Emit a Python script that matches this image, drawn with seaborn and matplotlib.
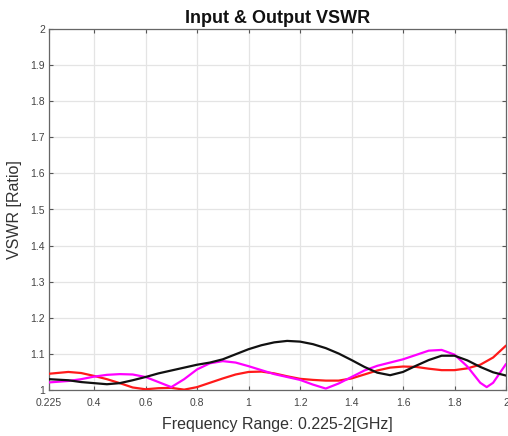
import numpy as np
import pandas as pd
import matplotlib
matplotlib.use("Agg")
import matplotlib.pyplot as plt
import seaborn as sns

freq = [0.225, 0.3, 0.35, 0.4, 0.45, 0.5, 0.55, 0.6, 0.65, 0.7, 0.75, 0.8, 0.85,
        0.9, 0.95, 1.0, 1.05, 1.1, 1.15, 1.2, 1.25, 1.3, 1.35, 1.4, 1.45, 1.5,
        1.55, 1.6, 1.65, 1.7, 1.75, 1.8, 1.85, 1.9, 1.95, 2.0]
vswr_black = [1.030, 1.027, 1.022, 1.019, 1.016, 1.019, 1.027, 1.036, 1.046, 1.054,
              1.062, 1.070, 1.076, 1.085, 1.099, 1.113, 1.124, 1.132, 1.136, 1.134,
              1.127, 1.116, 1.101, 1.083, 1.064, 1.048, 1.041, 1.050, 1.067, 1.083,
              1.095, 1.095, 1.082, 1.064, 1.049, 1.040]
vswr_red = [1.045, 1.050, 1.047, 1.039, 1.030, 1.019, 1.007, 1.002, 1.005, 1.006,
            1.001, 1.008, 1.020, 1.032, 1.043, 1.050, 1.051, 1.046, 1.038, 1.031,
            1.028, 1.026, 1.026, 1.032, 1.043, 1.054, 1.062, 1.065, 1.064, 1.059,
            1.055, 1.055, 1.060, 1.070, 1.090, 1.123]
freq_m = [0.225, 0.3, 0.35, 0.4, 0.45, 0.5, 0.55, 0.6, 0.65, 0.7, 0.75, 0.8, 0.85,
          0.9, 0.95, 1.0, 1.05, 1.1, 1.15, 1.2, 1.25, 1.3, 1.35, 1.4, 1.45, 1.5,
          1.55, 1.6, 1.65, 1.7, 1.75, 1.8, 1.85, 1.9, 1.925, 1.95, 2.0]
vswr_magenta = [1.021, 1.025, 1.030, 1.037, 1.042, 1.044, 1.043, 1.036, 1.022, 1.008,
                1.030, 1.057, 1.074, 1.080, 1.076, 1.066, 1.055, 1.044, 1.036, 1.028,
                1.015, 1.004, 1.018, 1.036, 1.054, 1.067, 1.076, 1.085, 1.097, 1.109,
                1.111, 1.098, 1.065, 1.020, 1.008, 1.020, 1.072]

xticks = [0.225, 0.4, 0.6, 0.8, 1.0, 1.2, 1.4, 1.6, 1.8, 2.0]
xticklabels = ["0.225", "0.4", "0.6", "0.8", "1", "1.2", "1.4", "1.6", "1.8", "2"]
yticks = [1.0, 1.1, 1.2, 1.3, 1.4, 1.5, 1.6, 1.7, 1.8, 1.9, 2.0]
yticklabels = ["1", "1.1", "1.2", "1.3", "1.4", "1.5", "1.6", "1.7", "1.8", "1.9", "2"]

sns.set_style("white")
plt.rcParams['font.family'] = ['Liberation Sans', 'DejaVu Sans']

fig = plt.figure(figsize=(5.08, 4.36), dpi=100)
ax = fig.add_axes([49/508, 46/436, 457/508, 361/436])

df_b = pd.DataFrame({"f": freq, "v": vswr_black})
df_r = pd.DataFrame({"f": freq, "v": vswr_red})
df_m = pd.DataFrame({"f": freq_m, "v": vswr_magenta})

sns.lineplot(data=df_r, x="f", y="v", color="#ff1a1a", linewidth=1.6, ax=ax, zorder=3)
sns.lineplot(data=df_m, x="f", y="v", color="#ff00ff", linewidth=1.6, ax=ax, zorder=4)
sns.lineplot(data=df_b, x="f", y="v", color="#111111", linewidth=1.6, ax=ax, zorder=5)

ax.set_xlim(0.225, 2.0)
ax.set_ylim(1.0, 2.0)
ax.set_xticks(xticks)
ax.set_xticklabels(xticklabels)
ax.set_yticks(yticks)
ax.set_yticklabels(yticklabels)
ax.grid(True, color="#e4e4e4", linewidth=0.9)
ax.set_axisbelow(True)
ax.tick_params(direction="in", length=3, width=0.8, colors="#555555",
               labelsize=7.5, labelcolor="#444444", top=True, right=True,
               bottom=True, left=True)
ax.tick_params(axis="x", pad=6)
ax.tick_params(axis="y", pad=3)
for s in ax.spines.values():
    s.set_color("#666666")
    s.set_linewidth(0.9)

ax.set_xlabel("Frequency Range: 0.225-2[GHz]", fontsize=11.5, color="#333333", labelpad=6)
ax.set_ylabel("VSWR [Ratio]", fontsize=11.5, color="#333333", labelpad=6)
ax.set_title("Input & Output VSWR", fontsize=13, fontweight="bold", color="#111111", pad=4)

fig.savefig("out.png", dpi=100)
